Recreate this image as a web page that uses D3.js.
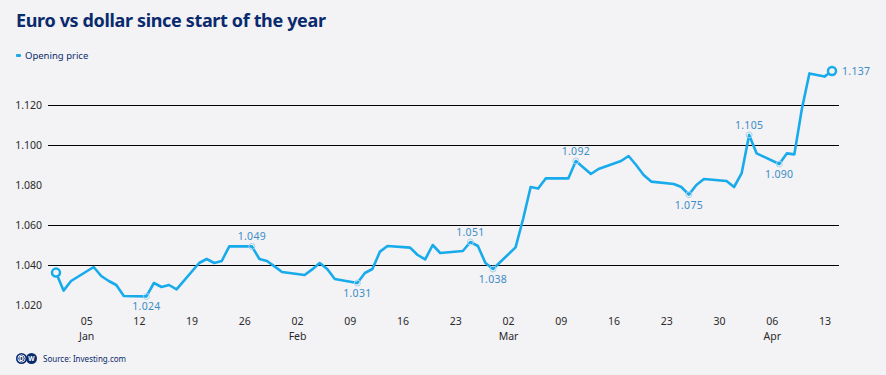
<!DOCTYPE html>
<html>
<head>
<meta charset="utf-8">
<script src="https://cdn.jsdelivr.net/npm/d3@7"></script>
<style>
  html, body { margin: 0; padding: 0; background: #f3f2f4; }
  svg { display: block; }
  text { font-family: "Noto Sans", "DejaVu Sans", sans-serif; }
</style>
</head>
<body>
<svg id="chart" width="886" height="375"></svg>
<script>
// ---------- DATA ----------
const dates = [
  "2025-01-01","2025-01-02","2025-01-03","2025-01-06","2025-01-07","2025-01-08","2025-01-09","2025-01-10",
  "2025-01-13","2025-01-14","2025-01-15","2025-01-16","2025-01-17","2025-01-20","2025-01-21","2025-01-22",
  "2025-01-23","2025-01-24","2025-01-27","2025-01-28","2025-01-29","2025-01-30","2025-01-31","2025-02-03",
  "2025-02-04","2025-02-05","2025-02-06","2025-02-07","2025-02-10","2025-02-11","2025-02-12","2025-02-13",
  "2025-02-14","2025-02-17","2025-02-18","2025-02-19","2025-02-20","2025-02-21","2025-02-24","2025-02-25",
  "2025-02-26","2025-02-27","2025-02-28","2025-03-03","2025-03-04","2025-03-05","2025-03-06","2025-03-07",
  "2025-03-10","2025-03-11","2025-03-12","2025-03-13","2025-03-14","2025-03-17","2025-03-18","2025-03-19",
  "2025-03-20","2025-03-21","2025-03-24","2025-03-25","2025-03-26","2025-03-27","2025-03-28","2025-03-31",
  "2025-04-01","2025-04-02","2025-04-03","2025-04-04","2025-04-07","2025-04-08","2025-04-09","2025-04-10",
  "2025-04-11","2025-04-13","2025-04-14"
];
const openingPrice = [
  1.0362,1.0272,1.0320,1.0390,1.0345,1.0320,1.0300,1.0245,
  1.0243,1.0310,1.0290,1.0300,1.0278,1.0410,1.0430,1.0410,
  1.0420,1.0493,1.0493,1.0430,1.0420,1.0393,1.0365,1.0350,
  1.0378,1.0410,1.0380,1.0330,1.0310,1.0360,1.0380,1.0467,
  1.0495,1.0487,1.0450,1.0428,1.0500,1.0460,1.0470,1.0515,
  1.0495,1.0410,1.0380,1.0488,1.0630,1.0790,1.0782,1.0833,
  1.0833,1.0920,1.0888,1.0855,1.0880,1.0920,1.0945,1.0900,
  1.0850,1.0817,1.0805,1.0790,1.0752,1.0800,1.0830,1.0820,
  1.0790,1.0858,1.1050,1.0958,1.0905,1.0958,1.0953,1.1180,
  1.1358,1.1342,1.1370
];
// annotated points
const annotDates  = ["2025-01-13","2025-01-27","2025-02-10","2025-02-25","2025-02-28","2025-03-11","2025-03-26","2025-04-03","2025-04-07"];
const annotLabels = ["1.024","1.049","1.031","1.051","1.038","1.092","1.075","1.105","1.090"];
const annotSide   = ["below","above","below","above","below","above","below","above","below"];
const lastLabel = "1.137";

const yTicks = [1.02, 1.04, 1.06, 1.08, 1.10, 1.12];
const yGridLines = [1.04, 1.06, 1.10, 1.12];
const monthLabels = { "2025-01-05": "Jan", "2025-02-02": "Feb", "2025-03-02": "Mar", "2025-04-06": "Apr" };

const title = "Euro vs dollar since start of the year";
const seriesName = "Opening price";
const sourceText = "Source: Investing.com";

// ---------- SETUP ----------
const parse = d3.timeParse("%Y-%m-%d");
const fmtKey = d3.timeFormat("%Y-%m-%d");
const data = dates.map((d, i) => ({ date: parse(d), value: openingPrice[i] }));

const navy = "#0a2a6e";
const lineColor = "#17abec";
const annColor = "#3b8dc7";
const bg = "#f3f2f4";

const svg = d3.select("#chart");
svg.append("rect").attr("width", 886).attr("height", 375).attr("fill", bg);

const x = d3.scaleTime()
  .domain([parse("2025-01-01"), parse("2025-04-14")])
  .range([56, 832]);
const y = d3.scaleLinear()
  .domain([1.04, 1.12])
  .range([265, 105]);

// Title
svg.append("text")
  .attr("x", 16).attr("y", 27)
  .attr("font-size", 18).attr("font-weight", 700)
  .attr("fill", navy)
  .attr("letter-spacing", -0.35)
  .text(title);

// Legend
svg.append("rect").attr("x", 16).attr("y", 54).attr("width", 5).attr("height", 3).attr("rx", 1).attr("fill", lineColor);
svg.append("text").attr("x", 25).attr("y", 59)
  .attr("font-size", 9.5).attr("fill", navy).text(seriesName);

// Gridlines
svg.append("g").selectAll("line").data(yGridLines).join("line")
  .attr("x1", 48).attr("x2", 839)
  .attr("y1", d => Math.round(y(d)) + 0.5).attr("y2", d => Math.round(y(d)) + 0.5)
  .attr("stroke", "#000").attr("stroke-width", 1.1);

// Y axis labels
const yAxis = d3.axisLeft(y).tickValues(yTicks).tickFormat(d3.format(".3f")).tickSize(0).tickPadding(0);
const gy = svg.append("g").attr("transform", "translate(42,0)").call(yAxis);
gy.select(".domain").remove();
gy.selectAll("text").attr("font-size", 10.5).attr("fill", "#2b2b2b")
  .attr("font-family", "\"Noto Sans\", sans-serif");

// X axis labels
const xAxis = d3.axisBottom(x).ticks(d3.timeSunday.every(1)).tickFormat(d3.timeFormat("%d")).tickSize(0).tickPadding(0);
const gx = svg.append("g").attr("transform", "translate(0,318)").call(xAxis);
gx.select(".domain").remove();
gx.selectAll("text").attr("font-size", 10.5).attr("fill", "#2b2b2b")
  .attr("font-family", "\"Noto Sans\", sans-serif");
gx.selectAll(".tick").each(function(d) {
  const m = monthLabels[fmtKey(d)];
  if (m) {
    d3.select(this).append("text")
      .attr("y", 22).attr("fill", "#2b2b2b").attr("font-size", 10.5)
      .attr("text-anchor", "middle")
      .attr("font-family", "\"Noto Sans\", sans-serif")
      .text(m);
  }
});

// Line
const line = d3.line().x(d => x(d.date)).y(d => y(d.value));
svg.append("path").datum(data)
  .attr("d", line)
  .attr("fill", "none")
  .attr("stroke", lineColor)
  .attr("stroke-width", 2.6)
  .attr("stroke-linejoin", "round")
  .attr("stroke-linecap", "round");

// Annotations
const byKey = new Map(data.map(d => [fmtKey(d.date), d]));
annotDates.forEach((k, i) => {
  const d = byKey.get(k);
  const px = x(d.date), py = y(d.value);
  svg.append("circle").attr("cx", px).attr("cy", py).attr("r", 3)
    .attr("fill", "none").attr("stroke", "#a9d2ee").attr("stroke-width", 1);
  svg.append("text")
    .attr("x", px)
    .attr("y", annotSide[i] === "above" ? py - 6 : py + 14)
    .attr("text-anchor", "middle")
    .attr("font-size", 10.5).attr("fill", annColor)
    .attr("letter-spacing", 0.3)
    .text(annotLabels[i]);
});

// Start & end markers
const first = data[0], last = data[data.length - 1];
[first, last].forEach(d => {
  svg.append("circle").attr("cx", x(d.date)).attr("cy", y(d.value)).attr("r", 4)
    .attr("fill", bg).attr("stroke", lineColor).attr("stroke-width", 2.5);
});
svg.append("text").attr("x", x(last.date) + 10).attr("y", y(last.value) + 4)
  .attr("font-size", 10.5).attr("fill", annColor).attr("letter-spacing", 0.3).text(lastLabel);

// Source + DW logo
const logo = svg.append("g").attr("transform", "translate(16,353)");
logo.append("circle").attr("cx", 5.5).attr("cy", 5.5).attr("r", 5.5).attr("fill", navy);
logo.append("circle").attr("cx", 15.5).attr("cy", 5.5).attr("r", 5.5).attr("fill", navy);
logo.append("circle").attr("cx", 5.5).attr("cy", 5.5).attr("r", 3.6).attr("fill", "none").attr("stroke", "#fff").attr("stroke-width", 0.9);
logo.append("text").attr("x", 5.5).attr("y", 7.8).attr("text-anchor", "middle").attr("font-size", 6.5).attr("font-weight", 700).attr("fill", "#fff").text("D");
logo.append("text").attr("x", 15.5).attr("y", 7.8).attr("text-anchor", "middle").attr("font-size", 6.5).attr("font-weight", 700).attr("fill", "#fff").text("W");
svg.append("text").attr("x", 43).attr("y", 362)
  .attr("font-size", 8).attr("fill", navy).text(sourceText);
</script>
</body>
</html>
